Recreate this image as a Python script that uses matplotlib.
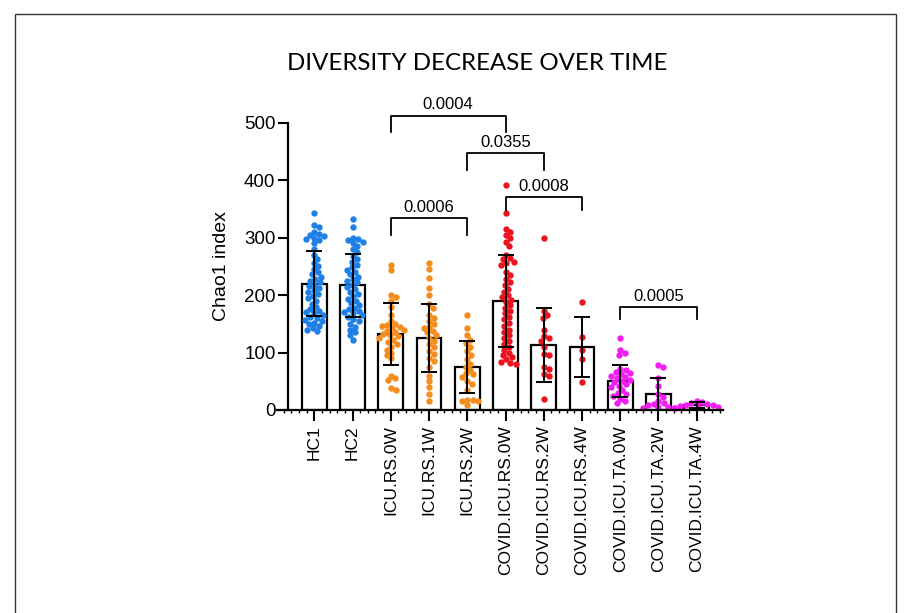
import numpy as np
import matplotlib
matplotlib.use("Agg")
import matplotlib.pyplot as plt
from matplotlib.patches import Rectangle
from matplotlib.ticker import MultipleLocator

# ---------------- data ----------------
categories = ["HC1", "HC2", "ICU.RS.0W", "ICU.RS.1W", "ICU.RS.2W",
              "COVID.ICU.RS.0W", "COVID.ICU.RS.2W", "COVID.ICU.RS.4W",
              "COVID.ICU.TA.0W", "COVID.ICU.TA.2W", "COVID.ICU.TA.4W"]

means = [220, 217, 132, 126, 75, 190, 113, 110, 50, 27, 9]
sds = [57, 55, 54, 59, 45, 80, 64, 52, 28, 29, 5]

hc1 = [342, 322, 318, 310, 306, 305, 302, 300, 298, 296, 290, 280, 270, 262, 255,
       250, 245, 240, 236, 232, 228, 225, 222, 218, 215, 212, 208, 205, 202, 198,
       195, 190, 185, 180, 176, 172, 170, 168, 165, 162, 160, 157, 155, 152, 150,
       147, 143, 140, 138]
hc2 = [333, 318, 300, 298, 295, 292, 290, 285, 280, 275, 268, 262, 258, 252, 248,
       244, 240, 236, 232, 228, 225, 222, 218, 214, 210, 206, 202, 198, 194, 190,
       186, 182, 178, 175, 172, 170, 168, 165, 162, 158, 155, 150, 145, 140, 135,
       130, 122]
icu_rs_0w = [253, 243, 200, 196, 190, 180, 165, 155, 150, 148, 146, 145, 143, 140,
             138, 135, 132, 130, 128, 125, 122, 118, 115, 110, 105, 100, 95, 90, 60,
             55, 52, 38, 35]
icu_rs_1w = [255, 245, 230, 212, 200, 185, 178, 165, 160, 155, 150, 145, 142, 138,
             135, 130, 125, 120, 115, 110, 102, 98, 90, 85, 75, 60, 50, 40, 28, 15]
icu_rs_2w = [166, 142, 130, 122, 116, 110, 102, 95, 88, 80, 75, 70, 65, 62, 58, 50,
             45, 35, 18, 17, 16, 15, 8]
covid_rs_0w = [391, 342, 315, 310, 305, 300, 292, 285, 270, 265, 262, 258, 255, 252,
               240, 235, 228, 222, 218, 210, 205, 200, 196, 192, 188, 182, 178, 172,
               168, 162, 158, 152, 146, 140, 135, 130, 125, 120, 115, 110, 105, 100,
               96, 92, 88, 84, 82, 80]
covid_rs_2w = [299, 172, 165, 160, 140, 128, 125, 120, 110, 98, 95, 75, 72, 62, 60, 20]
covid_rs_4w = [188, 127, 105, 88, 49]
covid_ta_0w = [125, 105, 100, 96, 72, 70, 66, 64, 62, 60, 57, 55, 52, 50, 48, 45, 42,
               40, 35, 30, 28, 25, 20, 15, 12]
covid_ta_2w = [78, 74, 55, 42, 28, 22, 15, 12, 10, 8, 6, 5, 4, 3]
covid_ta_4w = [15, 14, 12, 10, 9, 8, 7, 6, 5, 4]

groups = [hc1, hc2, icu_rs_0w, icu_rs_1w, icu_rs_2w, covid_rs_0w, covid_rs_2w,
          covid_rs_4w, covid_ta_0w, covid_ta_2w, covid_ta_4w]

# comparisons: (left index, right index, p-value label, bracket height, drop-to height)
comparisons = [(2, 5, "0.0004", 512, 484),
               (4, 6, "0.0355", 447, 418),
               (2, 4, "0.0006", 334, 305),
               (5, 7, "0.0008", 370, 348),
               (8, 10, "0.0005", 179, 158)]

yticks = [0, 100, 200, 300, 400, 500]

# ---------------- style ----------------
blue = "#1E80E6"
orange = "#F58C1E"
red = "#EB141E"
magenta = "#F01EF0"
group_colors = [blue, blue, orange, orange, orange, red, red, red,
                magenta, magenta, magenta]

plt.rcParams['font.family'] = ['Liberation Sans', 'DejaVu Sans']

W, H = 909, 613
fig = plt.figure(figsize=(W / 100, H / 100), dpi=100)

x0_px, x1_px = 277, 723
y0_px, y1_px = 410, 122.7
ax = fig.add_axes([x0_px / W, 1 - y0_px / H, (x1_px - x0_px) / W, (y0_px - y1_px) / H])

first_center_px = 314.3
spacing_px = 38.24
xlim_left = (x0_px - first_center_px) / spacing_px
xlim_right = (x1_px - first_center_px) / spacing_px
ax.set_xlim(xlim_left, xlim_right)
ax.set_ylim(0, 500)

px_per_unit_y = (y0_px - y1_px) / 500.0
px_per_unit_x = spacing_px


def swarm(vals, diam):
    """Greedy beeswarm offsets (in x data units) for values."""
    order = np.argsort(vals)[::-1]
    placed = []
    offs = np.zeros(len(vals))
    cands = [0.0]
    for k in range(1, 120):
        cands += [k * 0.5, -k * 0.5]
    for i in order:
        yp = vals[i] * px_per_unit_y
        for c in cands:
            ok = True
            for (px, py) in placed:
                if (c - px) ** 2 + (yp - py) ** 2 < diam ** 2:
                    ok = False
                    break
            if ok:
                placed.append((c, yp))
                offs[i] = c / px_per_unit_x
                break
    return offs


xpos = np.arange(len(categories))
ax.bar(xpos, means, width=0.65, facecolor="white", edgecolor="black",
       linewidth=1.6, zorder=1)

for i, vals in enumerate(groups):
    v = np.array(vals, dtype=float)
    offs = swarm(v, 5.3)
    ax.scatter(xpos[i] + offs, v, s=21, color=group_colors[i], linewidths=0,
               zorder=2, clip_on=False)

ax.errorbar(xpos, means, yerr=sds, fmt="none", ecolor="black", elinewidth=1.4,
            capsize=6, capthick=1.4, zorder=3)

# axes styling
for s in ["top", "right"]:
    ax.spines[s].set_visible(False)
ax.spines["left"].set_position(("data", (288 - first_center_px) / spacing_px))
ax.spines["left"].set_bounds(0, 500)
ax.spines["left"].set_linewidth(1.6)
ax.spines["bottom"].set_linewidth(1.6)
ax.set_yticks(yticks)
ax.set_yticklabels([str(t) for t in yticks], fontsize=13.5)
ax.tick_params(axis="y", direction="out", length=7, width=1.5, pad=2)
ax.set_xticks(xpos)
ax.set_xticklabels(categories, rotation=90, fontsize=12.5)
ax.tick_params(axis="x", direction="out", length=8, width=1.5, pad=3)
ax.xaxis.set_minor_locator(MultipleLocator(0.2))
ax.tick_params(axis="x", which="minor", direction="out", length=2.5, width=1)
ax.set_ylabel("Chao1 index", fontsize=14, labelpad=10)

# significance brackets
for (a, b, lab, h, d) in comparisons:
    ax.plot([a, a, b, b], [d, h, h, d], color="black", lw=1.3, clip_on=False,
            zorder=4)
    ax.text((a + b) / 2, h + 6, lab, ha="center", va="bottom", fontsize=12,
            clip_on=False)

# title
fig.text(477 / W, 1 - 63 / H, "DIVERSITY DECREASE OVER TIME", ha="center",
         va="center", fontsize=17.3, family=["Lato", "DejaVu Sans"])

# outer frame
fig.patches.append(Rectangle((15 / W, -0.1), (896 - 15) / W, 1.1 - 14 / H,
                             transform=fig.transFigure, fill=False,
                             edgecolor="#333333", linewidth=1.0))

fig.savefig("out.png", dpi=100)
